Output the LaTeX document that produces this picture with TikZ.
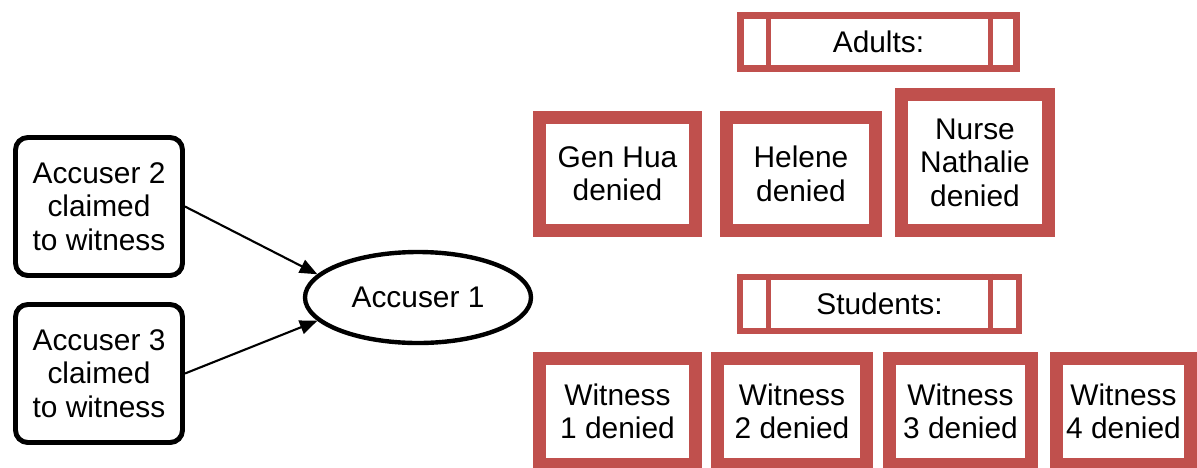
\documentclass[tikz,border=0pt]{standalone}
\usepackage{fontspec}
\setmainfont{Liberation Sans}
\usetikzlibrary{shapes.geometric,arrows.meta}
\definecolor{boxred}{HTML}{C0504D}
\def\px{0.02cm}
\tikzset{
  txt/.style={font=\fontsize{17}{19}\selectfont, align=center, inner sep=0pt, text=black},
  blackbox/.style={txt, draw=black, line width=2.8pt, rounded corners=7pt, rectangle},
  oval/.style={txt, draw=black, line width=2.5pt, ellipse},
  redbox/.style={txt, draw=boxred, line width=7.4pt, rectangle},
  headbox/.style={txt, draw=boxred, line width=3.8pt, rectangle},
  vline/.style={draw=boxred, line width=2.8pt},
  arr/.style={draw=black, line width=1.2pt, -{Triangle[length=10pt,width=8pt]}}
}
\begin{document}
\begin{tikzpicture}[x=0.02cm,y=-0.02cm]
\useasboundingbox[fill=white] (0,0) rectangle (1197,467);

% left side
\node[blackbox, minimum width=167*\px, minimum height=138*\px] (a2) at (99,206.5) {Accuser 2\\claimed\\to witness};
\node[blackbox, minimum width=167*\px, minimum height=138*\px] (a3) at (99,373.5) {Accuser 3\\claimed\\to witness};
\node[oval, minimum width=226*\px, minimum height=91*\px] (acc1) at (418,297.5) {Accuser 1};
\draw[arr] (a2.east) -- (acc1.167);
\draw[arr] (a3.east) -- (acc1.193);

% adults
\node[headbox, minimum width=276*\px, minimum height=53*\px] (adults) at (878.5,42) {\raisebox{-0.14cm}{Adults:}};
\draw[vline] ([xshift=31*\px]adults.north west) -- ([xshift=31*\px]adults.south west);
\draw[vline] ([xshift=-29*\px]adults.north east) -- ([xshift=-29*\px]adults.south east);
\node[redbox, minimum width=156*\px, minimum height=113*\px] (gen) at (617.5,174) {Gen Hua\\denied};
\node[redbox, minimum width=149*\px, minimum height=113*\px] (hel) at (801,174) {Helene\\denied};
\node[redbox, minimum width=147*\px, minimum height=136*\px] (nurse) at (975,162.5) {Nurse\\Nathalie\\denied};

% students
\node[headbox, minimum width=279*\px, minimum height=54*\px] (students) at (879.5,304) {\raisebox{-0.14cm}{Students:}};
\draw[vline] ([xshift=32*\px]students.north west) -- ([xshift=32*\px]students.south west);
\draw[vline] ([xshift=-32*\px]students.north east) -- ([xshift=-32*\px]students.south east);
\node[redbox, minimum width=156*\px, minimum height=106*\px] (w1) at (617.5,411.5) {Witness\\1 denied};
\node[redbox, minimum width=149*\px, minimum height=106*\px] (w2) at (792,411.5) {Witness\\2 denied};
\node[redbox, minimum width=142*\px, minimum height=106*\px] (w3) at (960.5,411.5) {Witness\\3 denied};
\node[redbox, minimum width=134*\px, minimum height=106*\px] (w4) at (1123.5,411.5) {Witness\\4 denied};
\end{tikzpicture}
\end{document}
